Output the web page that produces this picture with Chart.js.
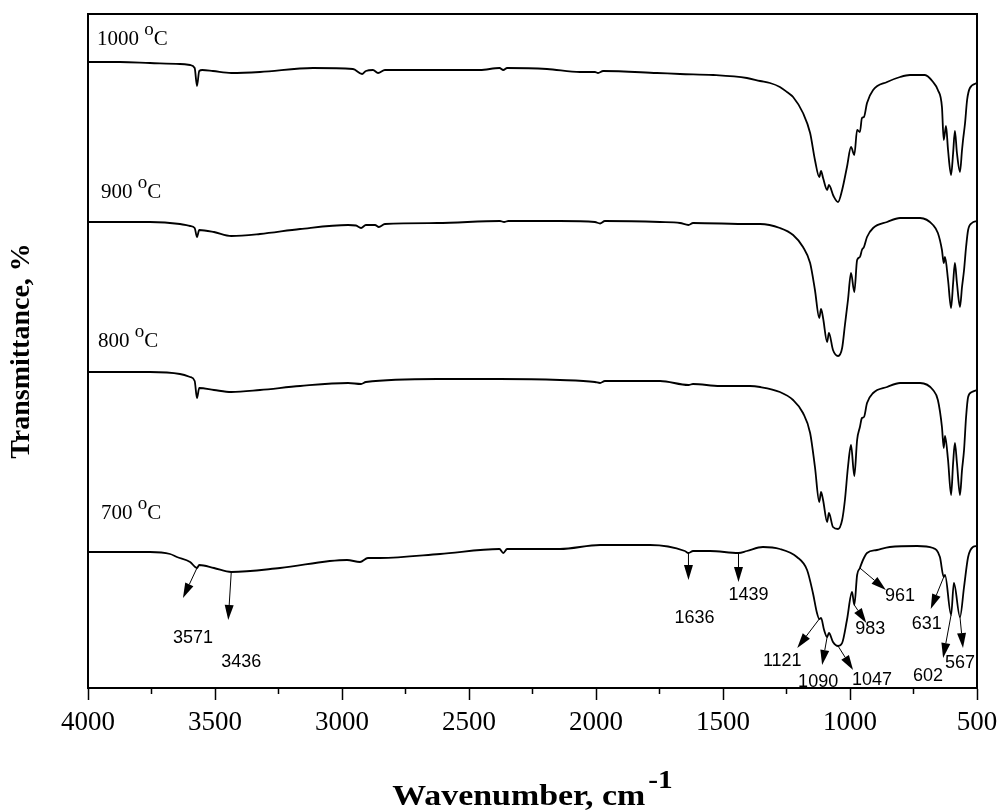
<!DOCTYPE html>
<html>
<head>
<meta charset="utf-8">
<script src="https://cdn.jsdelivr.net/npm/chart.js@4.4.1/dist/chart.umd.min.js"></script>
<style>
  html, body { margin: 0; padding: 0; background: #ffffff; }
  #wrap { width: 1000px; height: 811px; }
</style>
</head>
<body>
<div id="wrap"><canvas id="ftir" width="1000" height="811"></canvas></div>
<script>
// FTIR spectra, [wavenumber (cm-1), transmittance (arb. units, stacked)]
const spectrum1000 = [
  [4000,626],[3874,626],[3756,625],[3638,624],[3598,623],[3580,620],[3571,602],[3562,617],[3550,618],
  [3508,617],[3436,615],[3323,616],[3114,620],[2957,619],[2921,614],[2906,617],[2878,618],[2858,615],
  [2831,618],[2693,618],[2457,618],[2380,620],[2365,618],[2350,620],[2193,619],[2063,616],[2004,616],
  [1992,615],[1972,617],[1760,615],[1669,614],[1539,613],[1406,610],[1354,607],[1315,605],[1276,601],
  [1248,596],[1224,591],[1185,575],[1157,555],[1138,528],[1121,511],[1114,517],[1106,510],[1090,498],
  [1083,503],[1065,492],[1047,486],[1031,498],[1012,521],[996,541],[983,533],[972,558],[961,556],
  [953,570],[945,571],[933,585],[909,598],[854,606],[803,611],[764,613],[705,613],[673,606],[654,598],
  [638,581],[631,548],[622,562],[614,538],[602,513],[594,535],[587,557],[579,535],[567,516],[559,538],
  [555,548],[547,565],[539,588],[528,600],[500,605]
];
const spectrum900 = [
  [4000,466],[3756,466],[3638,464],[3598,462],[3580,460],[3571,451],[3562,458],[3504,456],[3436,452],
  [3323,454],[3165,459],[2976,463],[2945,462.5],[2925,460],[2906,463],[2870,463],[2855,461],[2831,464],
  [2626,465],[2378,467],[2362,466],[2345,467],[2142,467],[2004,466],[1984,464.5],[1965,467],[1748,466],
  [1669,465],[1636,463],[1618,465],[1394,464],[1354,464],[1276,460],[1224,453],[1185,441],[1157,425],
  [1138,398],[1121,370],[1114,379],[1106,370],[1090,346],[1083,355],[1067,338],[1047,332],[1031,340],
  [1020,363],[1008,388],[996,415],[983,396],[972,428],[961,431],[953,438],[945,441],[933,451],[909,460],
  [854,466],[803,470],[724,470],[673,463],[654,455],[638,438],[631,425],[626,431],[614,408],[602,380],
  [594,405],[587,425],[579,405],[567,381],[559,401],[551,418],[543,441],[535,458],[520,465],[500,467]
];
const spectrum800 = [
  [4000,316],[3756,316],[3638,314],[3598,311],[3580,307],[3571,290],[3562,300],[3504,298],[3436,296],
  [3323,298],[3165,302],[2976,305],[2925,304],[2906,306],[2626,309],[2378,309],[2142,308],[2004,306],
  [1984,305],[1965,307],[1748,307],[1636,303],[1618,304],[1512,302],[1394,302],[1354,301],[1276,296],
  [1224,288],[1185,275],[1157,255],[1138,221],[1121,186],[1114,196],[1106,188],[1090,166],[1083,175],
  [1067,161],[1047,159],[1031,168],[1020,188],[1008,221],[996,243],[983,212],[972,248],[961,261],
  [953,270],[945,271],[933,285],[909,295],[854,301],[803,305],[724,305],[673,298],[654,288],[638,261],
  [631,240],[626,252],[614,228],[602,193],[594,225],[587,245],[579,225],[567,193],[559,218],[551,238],
  [543,271],[535,291],[520,296],[500,298]
];
const spectrum700 = [
  [4000,136],[3874,136],[3756,136],[3677,134],[3650,131],[3598,126],[3571,120],[3562,123],[3504,120],
  [3436,116],[3244,120],[2980,128],[2929,126],[2898,130],[2850,130],[2614,134],[2380,139],[2365,135],
  [2350,139],[2142,139],[1984,143],[1787,143],[1650,137],[1636,135],[1618,137],[1551,137],[1439,135],
  [1406,137],[1343,141],[1276,139],[1209,131],[1169,118],[1146,95],[1130,75],[1121,69],[1114,70],
  [1102,58],[1090,51],[1083,55],[1067,46],[1047,42],[1031,45],[1012,68],[992,96],[983,83],[972,113],
  [961,120],[949,128],[933,135],[894,138],[843,141],[736,142],[673,140],[646,131],[631,111],[626,113],
  [602,73],[591,105],[567,71],[551,101],[535,131],[516,141],[500,142]
];

const temperatures = ['1000', '900', '800', '700'];
const spectra = [spectrum1000, spectrum900, spectrum800, spectrum700];

// x-axis tick values
const xMajorTicks = [4000, 3500, 3000, 2500, 2000, 1500, 1000, 500];
const xMinorTicks = [3750, 3250, 2750, 2250, 1750, 1250, 750];

// band positions marked on the 700 °C spectrum
const bandLabels = ['3571', '3436', '1636', '1439', '1121', '1090', '1047', '983', '961', '631', '602', '567'];
const bandWavenumbers = [3571, 3436, 1636, 1439, 1121, 1090, 1047, 983, 961, 631, 602, 567];

// arrow vector and label offset (px) for each band marker
const bandArrowLayout = [
  { dx: -14, dy: 30, lx: -4,  ly: 70 },
  { dx: -3,  dy: 48, lx: 10,  ly: 90 },
  { dx: 0,   dy: 27, lx: 6,   ly: 65 },
  { dx: 0,   dy: 29, lx: 10,  ly: 42 },
  { dx: -22, dy: 29, lx: -37, ly: 42 },
  { dx: -5,  dy: 28, lx: -9,  ly: 45 },
  { dx: 15,  dy: 24, lx: 34,  ly: 34 },
  { dx: 12,  dy: 18, lx: 16,  ly: 24 },
  { dx: 26,  dy: 22, lx: 40,  ly: 28 },
  { dx: -13, dy: 32, lx: -17, ly: 47 },
  { dx: -8,  dy: 43, lx: -23, ly: 61 },
  { dx: 3,   dy: 31, lx: 0,   ly: 46 }
];

// temperature caption anchors [wavenumber, value] (left end, baseline)
const captionAnchors = [[3965, 643], [3949, 490], [3961, 341], [3949, 169]];

const SERIF = "'Liberation Serif', 'Times New Roman', serif";
const SANS = "'Liberation Sans', Arial, sans-serif";

function valueAt(spectrum, w) {
  for (let i = 0; i < spectrum.length - 1; i++) {
    const a = spectrum[i], b = spectrum[i + 1];
    if (w <= a[0] && w >= b[0]) {
      const t = (a[0] - w) / (a[0] - b[0]);
      return a[1] + t * (b[1] - a[1]);
    }
  }
  return spectrum[spectrum.length - 1][1];
}

const decorations = {
  id: 'decorations',
  afterDraw(chart) {
    const { ctx, chartArea: a, scales: { x, y } } = chart;
    ctx.save();
    ctx.fillStyle = '#000';
    ctx.strokeStyle = '#000';

    // frame
    ctx.lineWidth = 2;
    ctx.strokeRect(a.left, a.top, a.right - a.left, a.bottom - a.top);

    // minor ticks
    ctx.lineWidth = 1.5;
    xMinorTicks.forEach(v => {
      const px = x.getPixelForValue(v);
      ctx.beginPath();
      ctx.moveTo(px, a.bottom);
      ctx.lineTo(px, a.bottom + 6);
      ctx.stroke();
    });

    // temperature captions
    captionAnchors.forEach((p, i) => {
      let px = x.getPixelForValue(p[0]);
      const py = y.getPixelForValue(p[1]);
      ctx.textAlign = 'left';
      ctx.textBaseline = 'alphabetic';
      ctx.font = '21px ' + SERIF;
      const t = temperatures[i] + ' ';
      ctx.fillText(t, px, py);
      px += ctx.measureText(t).width;
      ctx.font = '19px ' + SERIF;
      ctx.fillText('o', px, py - 10);
      px += ctx.measureText('o').width;
      ctx.font = '21px ' + SERIF;
      ctx.fillText('C', px, py);
    });

    // band arrows and labels
    ctx.font = '18px ' + SANS;
    ctx.textAlign = 'center';
    ctx.textBaseline = 'middle';
    bandWavenumbers.forEach((w, i) => {
      const L = bandArrowLayout[i];
      const sx = x.getPixelForValue(w);
      const sy = y.getPixelForValue(valueAt(spectrum700, w));
      const tx = sx + L.dx, ty = sy + L.dy;
      const len = Math.hypot(L.dx, L.dy);
      const ux = L.dx / len, uy = L.dy / len;
      const hl = 15, hw = 4.5;
      const bx = tx - ux * hl, by = ty - uy * hl;
      ctx.lineWidth = 1;
      ctx.beginPath();
      ctx.moveTo(sx, sy);
      ctx.lineTo(bx, by);
      ctx.stroke();
      ctx.beginPath();
      ctx.moveTo(tx, ty);
      ctx.lineTo(bx - uy * hw, by + ux * hw);
      ctx.lineTo(bx + uy * hw, by - ux * hw);
      ctx.closePath();
      ctx.fill();
      ctx.fillText(bandLabels[i], sx + L.lx, sy + L.ly);
    });

    // x-axis title with superscript
    const stretch = 1.13;
    ctx.textAlign = 'left';
    ctx.textBaseline = 'alphabetic';
    const mainText = 'Wavenumber, cm';
    const supText = '-1';
    ctx.font = 'bold 30px ' + SERIF;
    const wMain = ctx.measureText(mainText).width * stretch;
    ctx.font = 'bold 26px ' + SERIF;
    const wSup = ctx.measureText(supText).width * stretch;
    const gap = 3;
    const cx = (a.left + a.right) / 2;
    const startX = cx - (wMain + gap + wSup) / 2;
    ctx.save();
    ctx.translate(startX, 805);
    ctx.scale(stretch, 1);
    ctx.font = 'bold 30px ' + SERIF;
    ctx.fillText(mainText, 0, 0);
    ctx.restore();
    ctx.save();
    ctx.translate(startX + wMain + gap, 788);
    ctx.scale(stretch, 1);
    ctx.font = 'bold 26px ' + SERIF;
    ctx.fillText(supText, 0, 0);
    ctx.restore();

    // y-axis title
    ctx.save();
    ctx.translate(22, (a.top + a.bottom) / 2);
    ctx.rotate(-Math.PI / 2);
    ctx.textAlign = 'center';
    ctx.textBaseline = 'middle';
    ctx.font = 'bold 28px ' + SERIF;
    ctx.fillText('Transmittance, %', 0, 0);
    ctx.restore();

    ctx.restore();
  }
};

new Chart(document.getElementById('ftir'), {
  type: 'line',
  data: {
    datasets: spectra.map((s, i) => ({
      label: temperatures[i] + ' °C',
      data: s.map(p => ({ x: p[0], y: p[1] })),
      borderColor: '#000000',
      borderWidth: 1.8,
      pointRadius: 0,
      fill: false,
      cubicInterpolationMode: 'monotone'
    }))
  },
  options: {
    responsive: false,
    devicePixelRatio: 1,
    animation: false,
    layout: { padding: { top: 14, right: 23, left: 0, bottom: 0 } },
    plugins: { legend: { display: false }, tooltip: { enabled: false } },
    scales: {
      x: {
        type: 'linear',
        reverse: true,
        min: 500,
        max: 4000,
        position: 'bottom',
        afterBuildTicks(scale) { scale.ticks = xMajorTicks.map(v => ({ value: v })); },
        afterFit(scale) {
          scale.height = 123;
          scale.paddingLeft = 0;
          scale.paddingRight = 0;
        },
        ticks: {
          autoSkip: false,
          maxRotation: 0,
          padding: 7,
          color: '#000',
          font: { family: SERIF, size: 27 },
          callback: v => String(v)
        },
        grid: {
          display: true,
          drawOnChartArea: false,
          drawTicks: true,
          tickLength: 12,
          tickWidth: 1.5,
          tickColor: '#000',
          color: '#000'
        },
        border: { display: true, color: '#000', width: 2 }
      },
      y: {
        type: 'linear',
        min: 0,
        max: 674,
        afterFit(scale) { scale.width = 88; },
        ticks: { display: false },
        grid: { display: false, drawTicks: false },
        border: { display: true, color: '#000', width: 2 }
      }
    }
  },
  plugins: [decorations]
});
</script>
</body>
</html>
